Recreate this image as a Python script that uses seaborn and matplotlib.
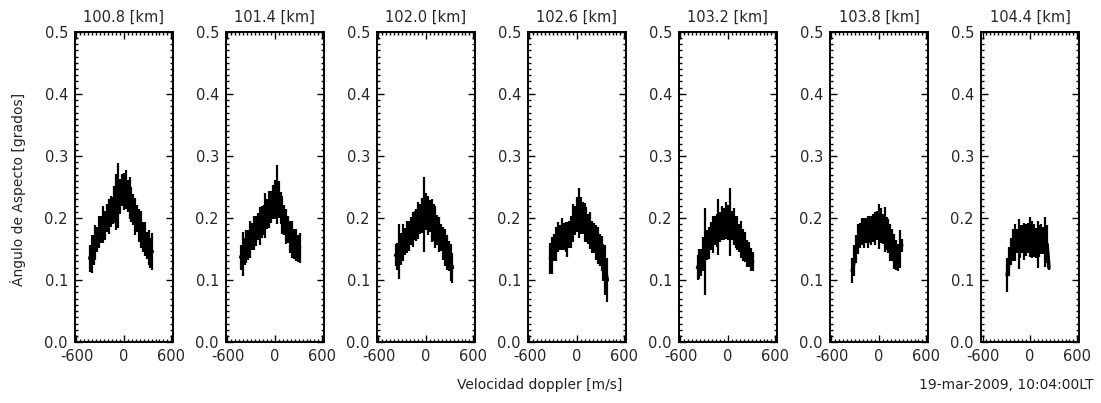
import numpy as np
import pandas as pd
import matplotlib
matplotlib.use('Agg')
import matplotlib.pyplot as plt
from matplotlib.ticker import MultipleLocator
import seaborn as sns

# doppler velocity bins [m/s]
VEL = [-432, -408, -384, -360, -336, -312, -288, -264, -240, -216, -192, -168,
       -144, -120, -96, -72, -48, -24, 0, 24, 48, 72, 96, 120, 144, 168, 192,
       216, 240, 264, 288, 312, 336, 360, 384]

HEIGHTS = ['100.8', '101.4', '102.0', '102.6', '103.2', '103.8', '104.4']
FIRST_BIN = [-432, -432, -384, -336, -384, -336, -288]

ANG_1008 = [0.135, 0.142, 0.148, 0.160, 0.165, 0.178, 0.182, 0.190, 0.188, 0.200, 0.203, 0.210,
            0.212, 0.222, 0.226, 0.236, 0.235, 0.245, 0.243, 0.246, 0.236, 0.232, 0.222, 0.214,
            0.202, 0.199, 0.188, 0.182, 0.170, 0.166, 0.156, 0.152, 0.144, 0.146]
ERR_1008 = [0.022, 0.030, 0.024, 0.028, 0.020, 0.026, 0.022, 0.030, 0.024, 0.022, 0.028, 0.025,
            0.022, 0.030, 0.045, 0.052, 0.028, 0.026, 0.030, 0.032, 0.026, 0.034, 0.028, 0.025,
            0.030, 0.022, 0.026, 0.030, 0.024, 0.027, 0.022, 0.028, 0.024, 0.030]

ANG_1014 = [0.137, 0.142, 0.146, 0.154, 0.157, 0.166, 0.170, 0.176, 0.179, 0.186, 0.187, 0.194,
            0.197, 0.204, 0.207, 0.214, 0.218, 0.226, 0.230, 0.238, 0.230, 0.216, 0.205, 0.197,
            0.186, 0.181, 0.170, 0.166, 0.158, 0.156, 0.151, 0.152]
ERR_1014 = [0.020, 0.035, 0.022, 0.026, 0.024, 0.030, 0.022, 0.028, 0.024, 0.022, 0.030, 0.026,
            0.024, 0.036, 0.024, 0.030, 0.026, 0.028, 0.032, 0.048, 0.030, 0.026, 0.030, 0.024,
            0.028, 0.022, 0.026, 0.030, 0.024, 0.026, 0.022, 0.024]

ANG_1020 = [0.140, 0.138, 0.146, 0.150, 0.160, 0.162, 0.170, 0.171, 0.179, 0.181, 0.188, 0.189,
            0.196, 0.199, 0.204, 0.206, 0.210, 0.204, 0.203, 0.196, 0.193, 0.185, 0.181, 0.173,
            0.169, 0.159, 0.153, 0.144, 0.139, 0.128, 0.120]
ERR_1020 = [0.018, 0.022, 0.045, 0.026, 0.030, 0.022, 0.026, 0.024, 0.022, 0.028, 0.024, 0.026,
            0.030, 0.024, 0.028, 0.060, 0.030, 0.032, 0.026, 0.035, 0.030, 0.034, 0.024, 0.028,
            0.022, 0.026, 0.030, 0.028, 0.024, 0.030, 0.024]

ANG_1026 = [0.135, 0.140, 0.152, 0.158, 0.170, 0.168, 0.174, 0.170, 0.170, 0.166, 0.174, 0.178,
            0.192, 0.196, 0.206, 0.208, 0.204, 0.200, 0.193, 0.190, 0.182, 0.180, 0.170, 0.168,
            0.160, 0.156, 0.148, 0.143, 0.128, 0.116, 0.100]
ERR_1026 = [0.025, 0.030, 0.022, 0.028, 0.024, 0.020, 0.026, 0.022, 0.024, 0.028, 0.022, 0.026,
            0.030, 0.024, 0.028, 0.040, 0.030, 0.026, 0.032, 0.028, 0.024, 0.030, 0.026, 0.024,
            0.028, 0.030, 0.026, 0.028, 0.030, 0.040, 0.035]

ANG_1032 = [0.120, 0.126, 0.128, 0.142, 0.146, 0.156, 0.160, 0.171, 0.173, 0.180, 0.180, 0.186,
            0.186, 0.192, 0.190, 0.196, 0.193, 0.194, 0.188, 0.186, 0.178, 0.176, 0.168, 0.166,
            0.156, 0.153, 0.143, 0.141, 0.133, 0.130]
ERR_1032 = [0.020, 0.024, 0.022, 0.028, 0.070, 0.024, 0.026, 0.022, 0.030, 0.024, 0.026, 0.045,
            0.024, 0.028, 0.026, 0.030, 0.028, 0.055, 0.024, 0.030, 0.026, 0.028, 0.022, 0.030,
            0.026, 0.024, 0.022, 0.020, 0.018, 0.016]

ANG_1038 = [0.115, 0.132, 0.150, 0.166, 0.172, 0.178, 0.176, 0.180, 0.178, 0.182, 0.180, 0.184,
            0.183, 0.188, 0.186, 0.188, 0.182, 0.181, 0.175, 0.171, 0.160, 0.156, 0.146, 0.140,
            0.136, 0.150, 0.156]
ERR_1038 = [0.020, 0.025, 0.022, 0.024, 0.020, 0.022, 0.024, 0.020, 0.026, 0.022, 0.024, 0.022,
            0.026, 0.024, 0.036, 0.028, 0.024, 0.036, 0.026, 0.028, 0.030, 0.026, 0.028, 0.024,
            0.022, 0.030, 0.010]

ANG_1044 = [0.108, 0.130, 0.146, 0.156, 0.160, 0.163, 0.158, 0.162, 0.166, 0.162, 0.165, 0.168,
            0.169, 0.166, 0.164, 0.160, 0.158, 0.163, 0.166, 0.164, 0.161, 0.158, 0.120]
ERR_1044 = [0.028, 0.024, 0.022, 0.026, 0.030, 0.020, 0.040, 0.026, 0.022, 0.030, 0.026, 0.024,
            0.032, 0.030, 0.026, 0.024, 0.038, 0.026, 0.024, 0.022, 0.040, 0.030, 0.003]

ANGLES = [ANG_1008, ANG_1014, ANG_1020, ANG_1026, ANG_1032, ANG_1038, ANG_1044]
ERRORS = [ERR_1008, ERR_1014, ERR_1020, ERR_1026, ERR_1032, ERR_1038, ERR_1044]

# build one long table
rows = []
for h, v0, ang, err in zip(HEIGHTS, FIRST_BIN, ANGLES, ERRORS):
    i0 = VEL.index(v0)
    for v, a, e in zip(VEL[i0:i0 + len(ang)], ang, err):
        rows.append((h, v, a, e))
df = pd.DataFrame(rows, columns=['height', 'vel', 'angle', 'err'])

sns.set_style('white')
plt.rcParams['font.family'] = ['DejaVu Sans']
plt.rcParams['axes.unicode_minus'] = False

fig, axes = plt.subplots(1, 7, figsize=(11.01, 4.03), dpi=100)
fig.subplots_adjust(left=0.068, right=0.980, bottom=0.151, top=0.921, wspace=0.54)

for ax, h in zip(axes, HEIGHTS):
    d = df[df['height'] == h]
    ax.vlines(d['vel'], d['angle'] - d['err'], d['angle'] + d['err'],
              color='black', linewidth=1.6)
    sns.lineplot(data=d, x='vel', y='angle', ax=ax, color='black',
                 linewidth=2.6, estimator=None, sort=True)
    ax.set_xlim(-620, 620)
    ax.set_ylim(0.0, 0.5)
    ax.set_xticks([-600, 0, 600])
    ax.set_xticklabels(['-600', '0', '600'])
    ax.set_yticks([0.0, 0.1, 0.2, 0.3, 0.4, 0.5])
    ax.set_yticklabels(['0.0', '0.1', '0.2', '0.3', '0.4', '0.5'])
    ax.xaxis.set_minor_locator(MultipleLocator(50))
    ax.yaxis.set_minor_locator(MultipleLocator(0.01))
    ax.tick_params(which='both', direction='in', top=True, right=True,
                   bottom=True, left=True, color='black', width=1.0)
    ax.tick_params(which='major', length=5, labelsize=10.5, pad=5)
    ax.tick_params(which='minor', length=2.5)
    for s in ax.spines.values():
        s.set_color('black')
        s.set_linewidth(1.4)
    ax.set_xlabel('')
    ax.set_ylabel('')
    ax.set_title(f'{h} [km]', fontsize=10.5, pad=7)

fig.text(0.016, 0.53, 'Ángulo de Aspecto [grados]', rotation=90,
         ha='center', va='center', fontsize=10, color='#222222')
fig.text(0.49, 0.045, 'Velocidad doppler [m/s]', ha='center', va='center',
         fontsize=10, color='#222222')
fig.text(0.993, 0.045, '19-mar-2009, 10:04:00LT', ha='right', va='center',
         fontsize=10, color='#222222')

fig.savefig('out.png', dpi=100)
